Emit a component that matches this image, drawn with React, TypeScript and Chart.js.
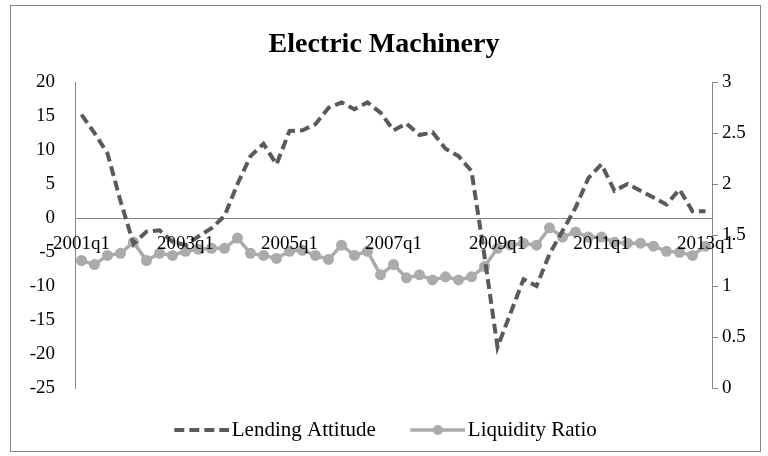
import React, { useEffect, useRef } from 'react';
import { Chart, registerables } from 'chart.js';

Chart.register(...registerables);

const categories = [
  '2001q1', '2001q2', '2001q3', '2001q4',
  '2002q1', '2002q2', '2002q3', '2002q4',
  '2003q1', '2003q2', '2003q3', '2003q4',
  '2004q1', '2004q2', '2004q3', '2004q4',
  '2005q1', '2005q2', '2005q3', '2005q4',
  '2006q1', '2006q2', '2006q3', '2006q4',
  '2007q1', '2007q2', '2007q3', '2007q4',
  '2008q1', '2008q2', '2008q3', '2008q4',
  '2009q1', '2009q2', '2009q3', '2009q4',
  '2010q1', '2010q2', '2010q3', '2010q4',
  '2011q1', '2011q2', '2011q3', '2011q4',
  '2012q1', '2012q2', '2012q3', '2012q4',
  '2013q1',
];

const lendingAttitude = [
  15.2, 12.5, 9.5, 2.5,
  -3.8, -2.0, -1.8, -3.5,
  -4.0, -2.7, -1.5, 0.3,
  5.0, 9.1, 10.9, 7.9,
  12.8, 12.9, 13.8, 16.2,
  17.0, 16.0, 17.0, 15.5,
  12.9, 13.9, 12.2, 12.6,
  10.2, 9.1, 6.9, -5.6,
  -19.0, -14.0, -9.0, -10.0,
  -5.3, -1.9, 1.5, 5.9,
  7.9, 4.0, 5.0, 4.0,
  3.0, 2.0, 4.2, 1.0,
  1.0,
];

const liquidityRatio = [
  1.25, 1.21, 1.30, 1.32,
  1.43, 1.25, 1.32, 1.30,
  1.34, 1.36, 1.37, 1.37,
  1.47, 1.32, 1.30, 1.27,
  1.34, 1.35, 1.30, 1.26,
  1.40, 1.30, 1.34, 1.11,
  1.21, 1.08, 1.11, 1.06,
  1.09, 1.06, 1.09, 1.19,
  1.37, 1.40, 1.42, 1.40,
  1.57, 1.48, 1.53, 1.48,
  1.48, 1.43, 1.42, 1.42,
  1.39, 1.34, 1.33, 1.30,
  1.39,
];

const xTickLabels = ['2001q1', '2003q1', '2005q1', '2007q1', '2009q1', '2011q1', '2013q1'];

const leftAxis = { min: -25, max: 20, step: 5 };
const rightAxis = { min: 0, max: 3, step: 0.5 };

const seriesNames = ['Lending Attitude', 'Liquidity Ratio'];
const titleText = 'Electric Machinery';

const DARK = '#5a5a5a';
const LIGHT = '#ababab';
const AXIS = '#868686';
const FONT = "'Liberation Serif', 'Times New Roman', serif";

function makeDashImage() {
  const c = document.createElement('canvas');
  c.width = 66;
  c.height = 10;
  const g = c.getContext('2d')!;
  g.strokeStyle = DARK;
  g.lineWidth = 4;
  g.setLineDash([10, 5]);
  g.beginPath();
  g.moveTo(11, 5);
  g.lineTo(66, 5);
  g.stroke();
  return c;
}

function makeMarkerImage() {
  const c = document.createElement('canvas');
  c.width = 66;
  c.height = 12;
  const g = c.getContext('2d')!;
  g.strokeStyle = LIGHT;
  g.lineWidth = 3.5;
  g.beginPath();
  g.moveTo(11, 6);
  g.lineTo(66, 6);
  g.stroke();
  g.fillStyle = LIGHT;
  g.beginPath();
  g.arc(38.5, 6, 5, 0, Math.PI * 2);
  g.fill();
  return c;
}

const framePlugin = {
  id: 'frame',
  beforeDraw(chart: any) {
    const ctx = chart.ctx;
    ctx.save();
    ctx.fillStyle = '#ffffff';
    ctx.fillRect(0, 0, chart.width, chart.height);
    ctx.strokeStyle = AXIS;
    ctx.lineWidth = 1;
    ctx.strokeRect(10.5, 5.5, 750, 446);
    ctx.restore();
  },
};

export default function App() {
  const ref = useRef<HTMLCanvasElement | null>(null);

  useEffect(() => {
    if (!ref.current) return;
    const dashImg = makeDashImage();
    const markerImg = makeMarkerImage();
    const chart = new Chart(ref.current, {
      type: 'line',
      data: {
        labels: categories,
        datasets: [
          {
            label: seriesNames[0],
            data: lendingAttitude,
            yAxisID: 'y',
            borderColor: DARK,
            backgroundColor: DARK,
            borderWidth: 4,
            borderDash: [10, 5],
            pointRadius: 0,
            tension: 0,
          },
          {
            label: seriesNames[1],
            data: liquidityRatio,
            yAxisID: 'y1',
            borderColor: LIGHT,
            backgroundColor: LIGHT,
            borderWidth: 3.5,
            pointRadius: 5.5,
            pointBorderWidth: 0,
            pointBackgroundColor: LIGHT,
            tension: 0,
          },
        ],
      },
      options: {
        responsive: false,
        animation: false,
        devicePixelRatio: 1,
        layout: { padding: { top: 0, bottom: 5.5, left: 0, right: 0 } },
        plugins: {
          tooltip: { enabled: false },
          title: {
            display: true,
            text: titleText,
            color: '#000',
            font: { family: FONT, size: 28, weight: 'bold', lineHeight: 1.2 },
            padding: { top: 28.2, bottom: 20.2 },
          },
          legend: {
            display: true,
            position: 'bottom',
            labels: {
              usePointStyle: true,
              pointStyleWidth: 50,
              padding: 31.5,
              color: '#000',
              font: { family: FONT, size: 21 },
              generateLabels: (ch: any) => {
                const items = Chart.defaults.plugins.legend.labels.generateLabels(ch);
                items[0].pointStyle = dashImg;
                items[1].pointStyle = markerImg;
                return items;
              },
            },
          },
        },
        scales: {
          x: {
            type: 'category',
            position: { y: 0 } as any,
            offset: true,
            grid: { display: false, drawTicks: false },
            border: { display: true, color: AXIS, width: 1 },
            ticks: {
              autoSkip: false,
              maxRotation: 0,
              minRotation: 0,
              padding: 15,
              color: '#000',
              z: 1,
              font: { family: FONT, size: 19 },
              callback: (_v: any, i: number) =>
                xTickLabels.includes(categories[i]) ? categories[i] : '',
            },
          },
          y: {
            type: 'linear',
            position: 'left',
            min: leftAxis.min,
            max: leftAxis.max,
            grid: { display: false, drawTicks: false },
            border: { display: true, color: AXIS, width: 1 },
            ticks: {
              stepSize: leftAxis.step,
              padding: 20,
              color: '#000',
              font: { family: FONT, size: 19 },
              callback: (v: any) => String(v),
            },
            afterFit: (s: any) => {
              s.width = 75;
            },
          },
          y1: {
            type: 'linear',
            position: 'right',
            min: rightAxis.min,
            max: rightAxis.max,
            grid: { display: true, drawOnChartArea: false, drawTicks: true, tickLength: 6, color: AXIS },
            border: { display: true, color: AXIS, width: 1 },
            ticks: {
              stepSize: rightAxis.step,
              padding: 4,
              color: '#000',
              font: { family: FONT, size: 19 },
              callback: (v: any) => String(v),
            },
            afterFit: (s: any) => {
              s.width = 56;
            },
          },
        },
      },
      plugins: [framePlugin],
    });
    return () => chart.destroy();
  }, []);

  return (
    <div style={{ position: 'absolute', left: 0, top: 0, width: 768, height: 456, background: '#fff' }}>
      <canvas ref={ref} width={768} height={456} style={{ width: 768, height: 456, display: 'block' }} />
    </div>
  );
}
